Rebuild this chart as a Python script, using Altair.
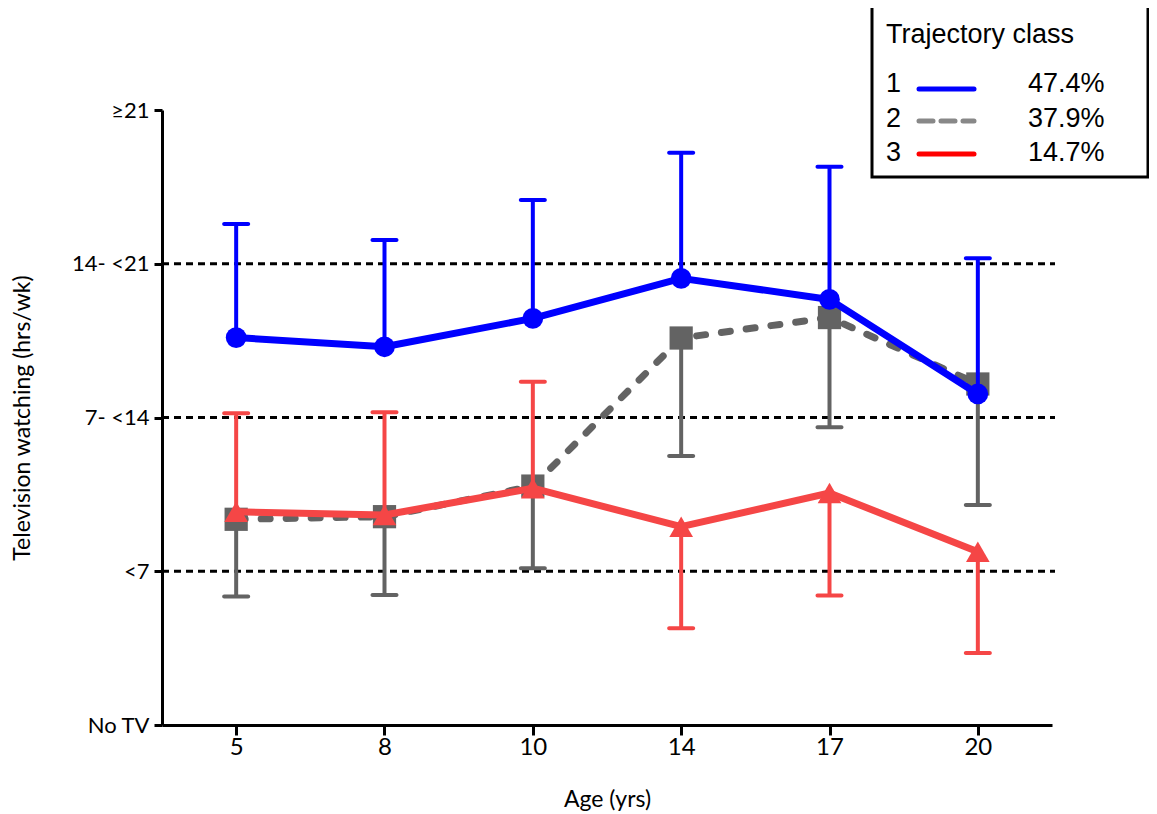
import json
import altair as alt
import pandas as pd

# ---------------- data ----------------
ages = [5, 8, 10, 14, 17, 20]
y_levels = [0, 1, 2, 3, 4]
y_labels = ["No TV", "<7", "7- <14", "14- <21", "≥21"]
grid_levels = [1, 2, 3]

class_names = ["1", "2", "3"]
class_shares = ["47.4%", "37.9%", "14.7%"]

c1_mean = [2.52, 2.46, 2.645, 2.905, 2.768, 2.153]
c1_bound = [3.258, 3.154, 3.415, 3.722, 3.631, 3.035]
c2_mean = [1.338, 1.355, 1.554, 2.517, 2.65, 2.218]
c2_bound = [0.835, 0.846, 1.019, 1.75, 1.936, 1.431]
c3_mean = [1.387, 1.366, 1.54, 1.29, 1.509, 1.127]
c3_bound = [2.027, 2.034, 2.233, 0.629, 0.843, 0.468]

# ---------------- styling ----------------
W, H = 890, 615
FONT = "Lato"
LEG_FONT = "Liberation Sans"
BLUE = "#0000FF"
GRAY = "#636363"
RED = "#F54646"

label_expr = json.dumps(y_labels, ensure_ascii=False) + "[datum.value]"
YT = "Television watching (hrs/wk)"

yscale = alt.Scale(domain=[0, 4], nice=False, zero=False)
yaxis = alt.Axis(values=y_levels, labelExpr=label_expr, title=YT, grid=False,
                 titleX=-133, titleBaseline="alphabetic")
xscale = alt.Scale(type="point", padding=0.5)
xaxis = alt.Axis(title="Age (yrs)", labelAngle=0, grid=False,
                 labelBaseline="alphabetic", titleY=81, titleBaseline="alphabetic")


def X():
    return alt.X("age:O", sort=ages, scale=xscale, axis=xaxis)


def Y(field):
    return alt.Y(field, scale=yscale, axis=yaxis, title=YT)


def class_layers(mean, bound, color, shape, size, dash=None):
    df = pd.DataFrame({"age": ages, "mean": mean, "bound": bound})
    base = alt.Chart(df)
    bars = base.mark_rule(color=color, strokeWidth=4).encode(
        x=X(), y=Y("mean:Q"), y2="bound:Q",
    )
    caps = base.mark_tick(color=color, thickness=4, size=28, cornerRadius=2, opacity=1).encode(
        x=X(), y=Y("bound:Q")
    )
    line_kw = dict(color=color, strokeWidth=7, strokeJoin="round")
    if dash:
        line_kw.update(strokeDash=dash, strokeCap="round")
    line = base.mark_line(**line_kw).encode(x=X(), y=Y("mean:Q"))
    pts = base.mark_point(shape=shape, filled=True, size=size, color=color, opacity=1).encode(
        x=X(), y=Y("mean:Q")
    )
    return [bars, caps, line, pts]


grid = alt.Chart(pd.DataFrame({"g": grid_levels})).mark_rule(
    color="black", strokeWidth=3, strokeDash=[7, 5]
).encode(
    y=Y("g:Q"),
    x=alt.value(0),
    x2=alt.value(W + 3),
)

layers = [grid]
layers += class_layers(c2_mean, c2_bound, GRAY, "square", 540, dash=[9, 16])
layers += class_layers(c3_mean, c3_bound, RED, "triangle-up", 560)
layers += class_layers(c1_mean, c1_bound, BLUE, "circle", 430)

# ---------------- legend box (drawn in pixel space) ----------------
one = alt.Data(values=[{"k": 0}])
box = alt.Chart(one).mark_rect(fill="white", stroke="black", strokeWidth=3).encode(
    x=alt.value(710), x2=alt.value(986), y=alt.value(-107), y2=alt.value(67)
)
layers.append(box)
layers.append(
    alt.Chart(one).mark_text(text="Trajectory class", font=LEG_FONT, fontSize=27,
                             align="left", baseline="alphabetic", color="black").encode(
        x=alt.value(724), y=alt.value(-67)
    )
)
leg_colors = [BLUE, "#888888", "#FF0000"]
leg_dash = [None, [14, 8], None]
leg_base = [-18, 17, 51]
leg_line_y = [-21, 11, 44]
for i in range(3):
    layers.append(
        alt.Chart(one).mark_text(text=class_names[i], font=LEG_FONT, fontSize=27,
                                 align="left", baseline="alphabetic", color="black").encode(
            x=alt.value(724), y=alt.value(leg_base[i])
        )
    )
    layers.append(
        alt.Chart(one).mark_text(text=class_shares[i], font=LEG_FONT, fontSize=27,
                                 align="left", baseline="alphabetic", color="black").encode(
            x=alt.value(866), y=alt.value(leg_base[i])
        )
    )
    kw = dict(color=leg_colors[i], strokeWidth=5, strokeCap="round")
    if leg_dash[i]:
        kw["strokeDash"] = leg_dash[i]
    layers.append(
        alt.Chart(one).mark_rule(**kw).encode(
            x=alt.value(757), x2=alt.value(812), y=alt.value(leg_line_y[i])
        )
    )

chart = alt.layer(*layers).properties(
    width=W, height=H,
    autosize=alt.AutoSizeParams(type="none"),
    padding={"left": 154, "top": 102, "right": 97, "bottom": 86},
).configure_view(stroke=None).configure_axis(
    domainColor="black", domainWidth=3, tickColor="black", tickWidth=3,
    labelFont=FONT, labelColor="black",
    titleFont=FONT, titleFontSize=23, titleFontWeight="normal", titleColor="black",
).configure_axisY(
    tickSize=8, labelPadding=5, labelFontSize=22,
).configure_axisX(
    tickSize=10, labelPadding=19, labelFontSize=24,
)

chart.save("out.html", embed_options={"renderer": "svg", "actions": False})
